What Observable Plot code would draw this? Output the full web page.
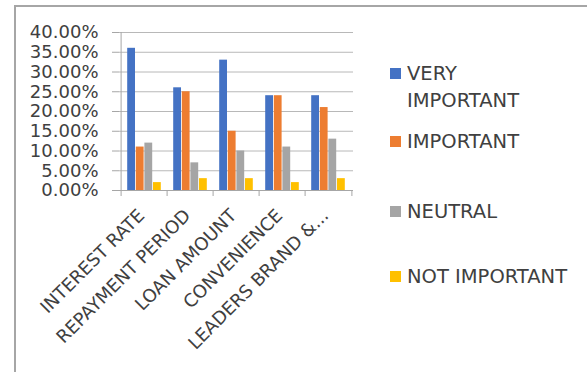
<!DOCTYPE html>
<html><head><meta charset="utf-8">
<script src="https://cdn.jsdelivr.net/npm/d3@7"></script>
<script src="https://cdn.jsdelivr.net/npm/@observablehq/plot@0.6"></script>
<style>
html,body{margin:0;padding:0;background:#fff;}
#wrap{position:relative;width:587px;height:372px;overflow:hidden;font-family:"DejaVu Sans",sans-serif;}
#chart{position:absolute;left:0;top:0;}
#border{position:absolute;left:14px;top:5px;width:700px;height:500px;border-left:2px solid #a6a6a6;border-top:2px solid #a6a6a6;pointer-events:none;}
#legend{position:absolute;left:390px;top:0;width:197px;height:372px;}
.item{position:absolute;left:0;}
.sw{position:absolute;left:0;top:8px;width:11px;height:11px;}
.lab{position:absolute;left:17px;top:0;max-width:165px;width:max-content;font-size:19.5px;line-height:27px;color:#404040;}
</style>
</head><body>
<div id="wrap"><div id="chart"></div><div id="legend"></div><div id="border"></div></div>
<script>
const categories = ["INTEREST RATE", "REPAYMENT PERIOD", "LOAN AMOUNT", "CONVENIENCE", "LEADERS BRAND &..."];
const series = ["VERY IMPORTANT", "IMPORTANT", "NEUTRAL", "NOT IMPORTANT"];
const colors = ["#4472C4", "#ED7D31", "#A5A5A5", "#FFC000"];
const veryImportant = [0.36, 0.26, 0.33, 0.24, 0.24];
const important = [0.11, 0.25, 0.15, 0.24, 0.21];
const neutral = [0.12, 0.07, 0.10, 0.11, 0.13];
const notImportant = [0.02, 0.03, 0.03, 0.02, 0.03];
const yTicks = [0, 0.05, 0.10, 0.15, 0.20, 0.25, 0.30, 0.35, 0.40];

const values = [veryImportant, important, neutral, notImportant];

const W = 587, H = 372, mL = 119, mR = 234, mT = 32, mB = 182;
const step = (W - mL - mR) / categories.length;
const pad = 6.2;
const bw = (step - 2 * pad) / series.length;
const gridColor = "#b8b8b8", axisColor = "#a6a6a6", textColor = "#404040";

const barMarks = series.map((s, i) =>
  Plot.barY(categories.map((c, j) => ({category: c, value: values[i][j]})), {
    x: "category", y: "value", fill: colors[i],
    insetLeft: pad + i * bw, insetRight: pad + (series.length - 1 - i) * bw
  })
);

const plot = Plot.plot({
  width: W, height: H,
  marginLeft: mL, marginRight: mR, marginTop: mT, marginBottom: mB,
  style: {fontFamily: "DejaVu Sans, sans-serif", fontSize: "18px", background: "transparent", color: textColor},
  x: {type: "band", domain: categories, padding: 0, label: null},
  y: {domain: [0, 0.4], label: null},
  marks: [
    Plot.ruleY(yTicks.slice(1), {y: d => d, stroke: gridColor}),
    ...barMarks,
    Plot.ruleY([0], {y: d => d, stroke: axisColor}),
    Plot.ruleX([categories[0]], {x: d => d, dx: -step / 2, y1: 0, y2: 0.4, stroke: axisColor}),
    Plot.ruleX(categories, {x: d => d, dx: -step / 2, y1: 0, y2: 0, insetBottom: -6, stroke: axisColor}),
    Plot.ruleX([categories[categories.length - 1]], {x: d => d, dx: step / 2, y1: 0, y2: 0, insetBottom: -6, stroke: axisColor}),
    Plot.axisY({ticks: yTicks, tickFormat: d3.format(".2%"), tickSize: 7, tickPadding: 14, stroke: axisColor, fill: textColor, fontSize: 18, label: null}),
    Plot.axisX({tickSize: 0, tickRotate: -45, tickPadding: 14, dy: 8, dx: -3, fill: textColor, fontSize: 18, label: null})
  ]
});
document.getElementById("chart").appendChild(plot);

const tops = [59.5, 128, 198, 263];
const legend = document.getElementById("legend");
series.forEach((s, i) => {
  const item = document.createElement("div");
  item.className = "item";
  item.style.top = tops[i] + "px";
  const sw = document.createElement("div");
  sw.className = "sw";
  sw.style.background = colors[i];
  const lab = document.createElement("div");
  lab.className = "lab";
  lab.textContent = s;
  item.appendChild(sw);
  item.appendChild(lab);
  legend.appendChild(item);
});
</script>
</body></html>
